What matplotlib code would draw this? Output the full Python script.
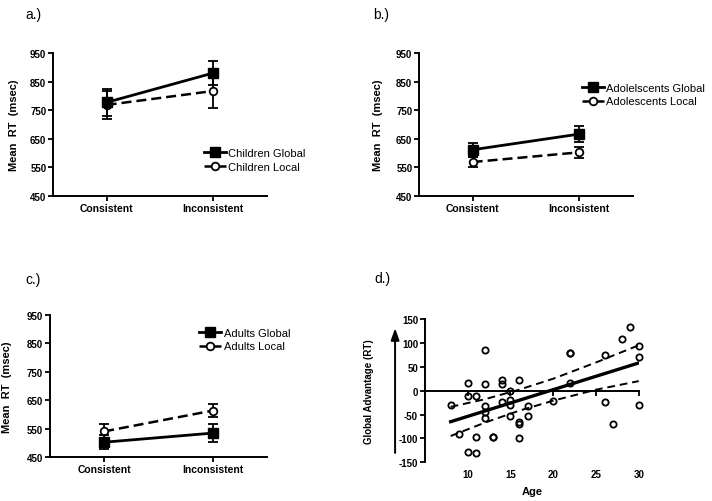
import matplotlib
matplotlib.use("Agg")
import matplotlib.pyplot as plt

plt.rcParams["font.family"] = ["Liberation Sans", "DejaVu Sans"]

conditions = ["Consistent", "Inconsistent"]
rt_ticks = [450, 550, 650, 750, 850, 950]

# panel a - children
children_global = [777, 880]
children_global_err = [48, 43]
children_local = [768, 817]
children_local_err = [50, 61]

# panel b - adolescents
adol_global = [611, 666]
adol_global_err = [25, 29]
adol_local = [568, 602]
adol_local_err = [18, 20]

# panel c - adults
adult_global = [503, 535]
adult_global_err = [24, 31]
adult_local = [541, 614]
adult_local_err = [26, 23]

# panel d - global advantage by age
ages = [8, 9, 10, 10, 10, 11, 11, 11, 12, 12, 12, 12, 12, 13, 13,
        14, 14, 14, 15, 15, 15, 15, 16, 16, 16, 16, 17, 17, 20,
        22, 22, 22, 26, 26, 27, 28, 29, 30, 30, 30]
advantage = [-30, -91, 15, -12, -129, -11, -97, -131, 85, 13, -33, -45, -58, -96, -97,
             22, 13, -24, -1, -19, -29, -54, 23, -65, -70, -100, -33, -54, -22,
             79, 78, 15, 75, -24, -70, 108, 133, 94, 71, -31]
fit_age = [8, 30]
fit_value = [-65, 58]
ci_age = [8, 12, 16, 20, 25, 30]
ci_upper = [-34, -18, 2, 25, 59, 95]
ci_lower = [-95, -67, -42, -21, 2, 20]
age_ticks = [10, 15, 20, 25, 30]
adv_ticks = [-150, -100, -50, 0, 50, 100, 150]


def style_axes(ax):
    for s in ("top", "right"):
        ax.spines[s].set_visible(False)
    for s in ("left", "bottom"):
        ax.spines[s].set_linewidth(1.4)
    ax.tick_params(direction="out", length=3.5, width=1.3, pad=1.5)
    for lab in ax.get_yticklabels() + ax.get_xticklabels():
        lab.set_fontweight("bold")


def rt_panel(ax, glob, glob_err, loc, loc_err, names, legend_xy, ylab_x):
    xs = range(len(conditions))
    ax.errorbar(xs, loc, yerr=loc_err, color="black", ls="--", lw=1.8, dashes=(4, 2),
                marker="o", ms=5.5, mfc="white", mec="black", mew=1.3,
                capsize=3.8, elinewidth=1.3, capthick=1.3, label=names[1], zorder=2)
    ax.errorbar(xs, glob, yerr=glob_err, color="black", ls="-", lw=2.0,
                marker="s", ms=6.5, capsize=3.8, elinewidth=1.3, capthick=1.3,
                label=names[0], zorder=3)
    ax.set_xlim(-0.5, 1.5)
    ax.set_ylim(450, 950)
    ax.set_yticks(rt_ticks)
    ax.set_yticklabels([str(t) for t in rt_ticks], fontsize=7, fontweight="bold")
    ax.set_xticks(list(xs))
    ax.set_xticklabels(conditions, fontsize=7.5, fontweight="bold")
    ax.set_ylabel("Mean  RT  (msec)", fontsize=8, fontweight="bold")
    ax.yaxis.set_label_coords(ylab_x, 0.5)
    style_axes(ax)
    handles, labels = ax.get_legend_handles_labels()
    handles = [h[0] for h in handles][::-1]
    labels = labels[::-1]
    ax.legend(handles, labels, loc="center left", bbox_to_anchor=legend_xy,
              frameon=False, fontsize=8, handlelength=2.0, handletextpad=0.2,
              labelspacing=0.35, borderpad=0, borderaxespad=0)


def main():
    fig = plt.figure(figsize=(7.12, 5.02), dpi=100)
    W, H = 712.0, 502.0

    def add(left, top, right, bottom):
        return fig.add_axes([left / W, 1 - bottom / H, (right - left) / W, (bottom - top) / H])

    ax_a = add(53.3, 54, 266.7, 196.7)
    ax_b = add(419.3, 54, 632.7, 196.7)
    ax_c = add(50, 316, 266.7, 458.3)
    ax_d = add(425, 320, 638.7, 463.3)

    rt_panel(ax_a, children_global, children_global_err, children_local, children_local_err,
             ["Children Global", "Children Local"], (0.706, 0.25), -0.161)
    rt_panel(ax_b, adol_global, adol_global_err, adol_local, adol_local_err,
             ["Adolelscents Global", "Adolescents Local"], (0.762, 0.709), -0.171)
    rt_panel(ax_c, adult_global, adult_global_err, adult_local, adult_local_err,
             ["Adults Global", "Adults Local"], (0.688, 0.828), -0.174)

    # panel d
    ax = ax_d
    ax.plot(ages, advantage, ls="none", marker="o", ms=4.5, mfc="none", mec="black",
            mew=1.3, clip_on=False, zorder=3)
    ax.plot(fit_age, fit_value, color="black", lw=2.4, zorder=4)
    ax.plot(ci_age, ci_upper, color="black", lw=1.4, ls="--", dashes=(4, 2.5), zorder=4)
    ax.plot(ci_age, ci_lower, color="black", lw=1.4, ls="--", dashes=(4, 2.5), zorder=4)
    ax.set_xlim(5, 30)
    ax.set_ylim(-150, 150)
    ax.set_yticks(adv_ticks)
    ax.set_yticklabels([str(t) for t in adv_ticks], fontsize=7, fontweight="bold")
    ax.spines["bottom"].set_position(("data", 0))
    ax.set_xticks(age_ticks)
    ax.tick_params(axis="x", labelbottom=False)
    style_axes(ax)
    sec = ax.secondary_xaxis("bottom")
    sec.spines["bottom"].set_visible(False)
    sec.set_xticks(age_ticks)
    sec.set_xticklabels([str(t) for t in age_ticks], fontsize=7, fontweight="bold")
    sec.tick_params(length=0, pad=5)
    sec.set_xlabel("Age", fontsize=8, fontweight="bold", labelpad=5)
    ax.set_ylabel("Global Advantage (RT)", fontsize=7, fontweight="bold")
    ax.yaxis.set_label_coords(-0.239, 0.5)
    ax.annotate("", xy=(-0.14, 0.955), xytext=(-0.14, 0.046), xycoords="axes fraction",
                arrowprops=dict(arrowstyle="-|>,head_length=0.7,head_width=0.25",
                                color="black", lw=1.4),
                annotation_clip=False)

    fig.text(25 / W, 1 - 15 / H, "a.)", fontsize=10, va="center")
    fig.text(373 / W, 1 - 15 / H, "b.)", fontsize=10, va="center")
    fig.text(25 / W, 1 - 280 / H, "c.)", fontsize=10, va="center")
    fig.text(374 / W, 1 - 279 / H, "d.)", fontsize=10, va="center")

    fig.savefig("out.png", dpi=100)
    plt.close(fig)


if __name__ == "__main__":
    main()
